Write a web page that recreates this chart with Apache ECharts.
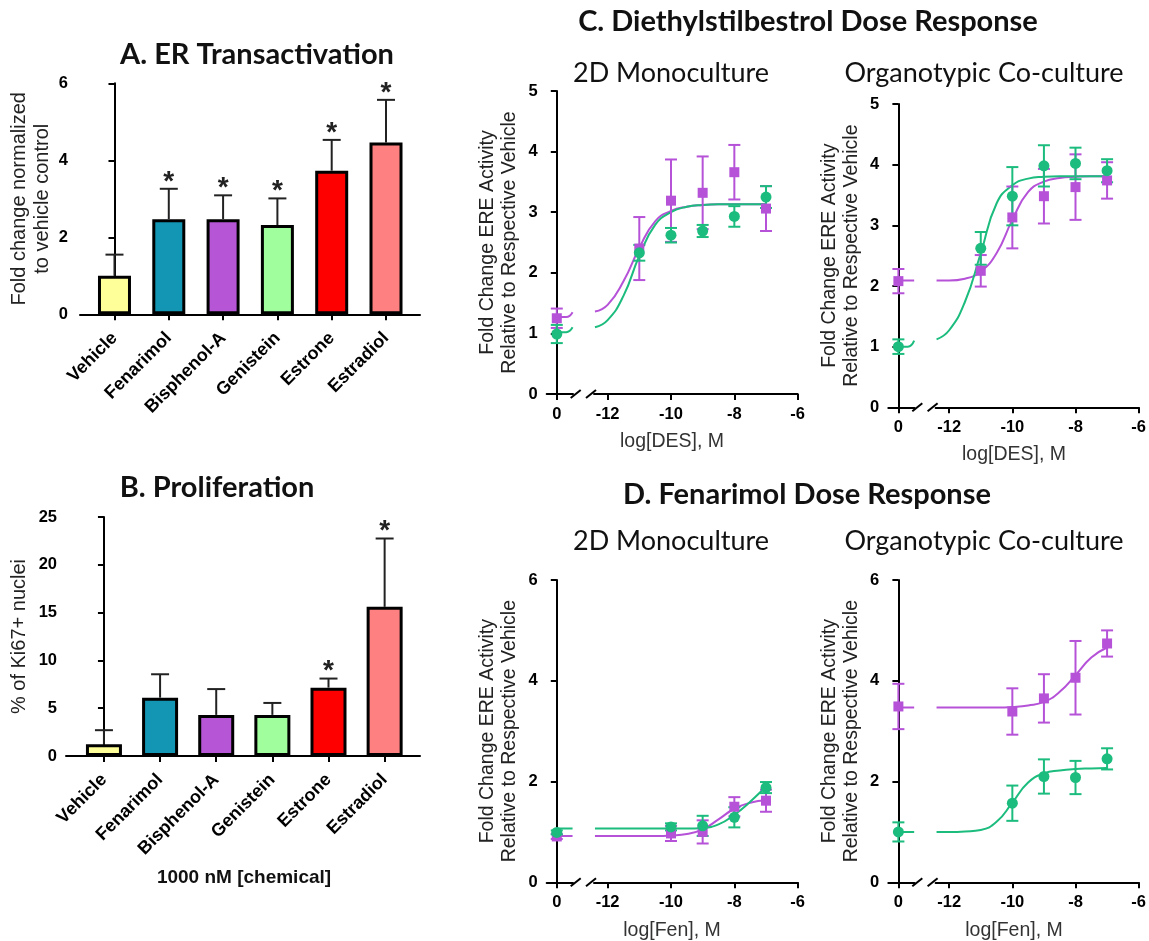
<!DOCTYPE html>
<html>
<head>
<meta charset="utf-8">
<title>ER transactivation, proliferation and dose response</title>
<script src="https://cdn.jsdelivr.net/npm/echarts@6/dist/echarts.min.js"></script>
<style>
  html, body { margin: 0; padding: 0; background: #fff; }
  #chart { width: 1149px; height: 941px; }
</style>
</head>
<body>
<div id="chart"></div>
<script>
// ---------- data ----------
const chemicals = ['Vehicle', 'Fenarimol', 'Bisphenol-A', 'Genistein', 'Estrone', 'Estradiol'];

// A. ER transactivation (fold change), upper SEM, significance
const erMean = [1.0, 2.47, 2.47, 2.32, 3.73, 4.46];
const erSem = [0.55, 0.79, 0.62, 0.69, 0.80, 1.11];
const erSig = [0, 1, 1, 1, 1, 1];

// B. Proliferation (% Ki67+ nuclei)
const ki67Mean = [1.22, 6.1, 4.3, 4.3, 7.15, 15.6];
const ki67Sem = [1.48, 2.45, 2.7, 1.25, 0.95, 7.15];
const ki67Sig = [0, 0, 0, 0, 1, 1];

// C / D. dose response: log dose of each point, fitted curve sample points
const desDose = [-11, -10, -9, -8, -7];
const fenDose = [-10, -9, -8, -7];
const curveX = [-12.4, -12, -11.5, -11, -10.5, -10, -9.5, -9, -8.5, -8, -7.5, -7];
const vehLineX = [0, 0.3, 0.5];

// C, 2D monoculture
const desMonoSqVeh = [1.25, 0.16];
const desMonoSqMean = [2.40, 3.19, 3.32, 3.66, 3.06];
const desMonoSqSem = [0.52, 0.68, 0.60, 0.45, 0.37];
const desMonoSqCurve = [1.36, 1.47, 1.86, 2.41, 2.85, 3.02, 3.09, 3.12, 3.13, 3.13, 3.13, 3.13];
const desMonoSqVehLine = [1.27, 1.27, 1.35];
const desMonoCiVeh = [0.99, 0.15];
const desMonoCiMean = [2.33, 2.62, 2.69, 2.93, 3.25];
const desMonoCiSem = [0.13, 0.12, 0.10, 0.17, 0.18];
const desMonoCiCurve = [1.10, 1.22, 1.62, 2.28, 2.79, 3.00, 3.09, 3.12, 3.13, 3.13, 3.13, 3.13];
const desMonoCiVehLine = [1.02, 1.02, 1.10];

// C, organotypic co-culture
const desOrgSqVeh = [2.08, 0.20];
const desOrgSqMean = [2.25, 3.13, 3.48, 3.63, 3.74];
const desOrgSqSem = [0.26, 0.51, 0.45, 0.54, 0.30];
const desOrgSqCurve = [2.09, 2.09, 2.12, 2.24, 2.54, 3.09, 3.55, 3.72, 3.78, 3.80, 3.81, 3.81];
const desOrgSqVehLine = [2.09, 2.09, 2.09];
const desOrgCiVeh = [1.0, 0.12];
const desOrgCiMean = [2.62, 3.48, 3.98, 4.02, 3.90];
const desOrgCiSem = [0.27, 0.48, 0.34, 0.26, 0.19];
const desOrgCiCurve = [1.12, 1.27, 1.74, 2.54, 3.36, 3.66, 3.77, 3.80, 3.81, 3.81, 3.81, 3.81];
const desOrgCiVehLine = [1.0, 1.0, 1.10];

// D, 2D monoculture
const fenMonoSqVeh = [0.91, 0.05];
const fenMonoSqMean = [0.97, 1.0, 1.5, 1.62];
const fenMonoSqSem = [0.15, 0.23, 0.19, 0.22];
const fenMonoSqCurve = [0.92, 0.92, 0.92, 0.92, 0.92, 0.93, 0.96, 1.05, 1.25, 1.46, 1.58, 1.63];
const fenMonoSqVehLine = [0.92, 0.92, 0.92];
const fenMonoCiVeh = [0.99, 0.04];
const fenMonoCiMean = [1.10, 1.12, 1.29, 1.88];
const fenMonoCiSem = [0.07, 0.20, 0.20, 0.11];
const fenMonoCiCurve = [1.07, 1.07, 1.07, 1.07, 1.07, 1.07, 1.07, 1.08, 1.15, 1.34, 1.60, 1.90];
const fenMonoCiVehLine = [1.07, 1.07, 1.07];

// D, organotypic co-culture
const fenOrgSqVeh = [3.49, 0.45];
const fenOrgSqMean = [3.39, 3.65, 4.06, 4.74];
const fenOrgSqSem = [0.46, 0.48, 0.73, 0.26];
const fenOrgSqCurve = [3.47, 3.47, 3.47, 3.47, 3.47, 3.48, 3.51, 3.58, 3.78, 4.11, 4.46, 4.66];
const fenOrgSqVehLine = [3.47, 3.47, 3.47];
const fenOrgCiVeh = [1.0, 0.19];
const fenOrgCiMean = [1.57, 2.10, 2.08, 2.45];
const fenOrgCiSem = [0.35, 0.34, 0.33, 0.21];
const fenOrgCiCurve = [1.0, 1.0, 1.01, 1.04, 1.20, 1.58, 1.98, 2.16, 2.22, 2.25, 2.26, 2.27];
const fenOrgCiVehLine = [1.0, 1.0, 1.0];

// ---------- styles ----------
const barColors = ['#FFFF99', '#1396B3', '#B656D6', '#A0FF9C', '#FF0000', '#FF8080'];
const PURPLE = '#B552D8';
const GREEN = '#1BBC7D';
const NUM_FONT = 'Liberation Sans';
const TITLE_FONT = 'Lato';

const chart = echarts.init(document.getElementById('chart'));

function errRender(capHalf, upOnly) {
  return function (params, api) {
    const x = api.value(0), m = api.value(1), e = api.value(2);
    const top = api.coord([x, m + e]);
    const bot = api.coord([x, upOnly ? m : m - e]);
    const style = { stroke: api.visual('color'), lineWidth: 2 };
    const kids = [
      { type: 'line', shape: { x1: top[0], y1: top[1], x2: bot[0], y2: bot[1] }, style: style },
      { type: 'line', shape: { x1: top[0] - capHalf, y1: top[1], x2: top[0] + capHalf, y2: top[1] }, style: style }
    ];
    if (!upOnly) {
      kids.push({ type: 'line', shape: { x1: bot[0] - capHalf, y1: bot[1], x2: bot[0] + capHalf, y2: bot[1] }, style: style });
    }
    if (api.value(3) === 1) {
      kids.push({
        type: 'text', x: top[0], y: top[1] - 7,
        style: { text: '*', fill: '#222', font: 'bold 28px "' + NUM_FONT + '"', align: 'center', verticalAlign: 'middle' }
      });
    }
    return { type: 'group', children: kids };
  };
}

const labelStyle = { color: '#000', fontFamily: NUM_FONT, fontWeight: 'bold', fontSize: 16.5 };
const lineBlack = { show: true, lineStyle: { color: '#000', width: 2 } };
const tickBlack = { show: true, length: 6, lineStyle: { color: '#000', width: 2 } };

const grids = [];
const xAxes = [];
const yAxes = [];
const series = [];

function addAxisPair(rect, xOpt, yOpt) {
  const idx = grids.length;
  grids.push(Object.assign({ containLabel: false }, rect));
  xAxes.push(Object.assign({ gridIndex: idx, type: 'value', splitLine: { show: false } }, xOpt));
  yAxes.push(Object.assign({ gridIndex: idx, type: 'value', splitLine: { show: false } }, yOpt));
  return idx;
}

// ---------- bar panels ----------
function barPanel(rect, xMin, xMax, yMax, yInt, yName, nameGap, yMargin, barW, mean, sem, sig) {
  const idx = addAxisPair(rect, {
    min: xMin, max: xMax,
    axisLine: lineBlack,
    axisTick: Object.assign({ customValues: [0, 1, 2, 3, 4, 5] }, tickBlack),
    axisLabel: {
      customValues: [0, 1, 2, 3, 4, 5], rotate: 45, margin: 21, fontSize: 18,
      color: '#000', fontFamily: NUM_FONT, fontWeight: 'bold',
      formatter: function (v) { return chemicals[Math.round(v)]; }
    }
  }, {
    min: 0, max: yMax, interval: yInt,
    axisLine: lineBlack, axisTick: tickBlack,
    axisLabel: Object.assign({ margin: yMargin }, labelStyle),
    name: yName, nameLocation: 'middle', nameRotate: 90, nameGap: nameGap,
    nameTextStyle: { fontFamily: NUM_FONT, fontSize: 20, color: '#222', lineHeight: 23 }
  });
  series.push({
    type: 'bar', xAxisIndex: idx, yAxisIndex: idx, barWidth: barW,
    data: mean.map(function (v, i) { return { value: [i, v], itemStyle: { color: barColors[i] } }; }),
    itemStyle: { borderColor: '#000', borderWidth: 3 }, z: 2
  });
  series.push({
    type: 'custom', xAxisIndex: idx, yAxisIndex: idx, renderItem: errRender(9, true),
    encode: { x: 0, y: 1 }, itemStyle: { color: '#222' }, z: 3,
    data: mean.map(function (v, i) { return [i, v, sem[i], sig[i]]; })
  });
}

barPanel({ left: 80, top: 83.3, width: 340, height: 231 }, -0.635, 5.626, 6, 2,
  'Fold change normalized\nto vehicle control', 26, 12, 33, erMean, erSem, erSig);
barPanel({ left: 66, top: 517, width: 354, height: 239 }, -0.676, 5.63, 25, 5,
  '% of Ki67+ nuclei', 35, 9, 36, ki67Mean, ki67Sem, ki67Sig);

// ---------- dose-response panels ----------
function doseSeries(va, da, doseX, veh, mean, sem, curve, vehLine, color, symbol) {
  const lineCommon = { type: 'line', smooth: true, showSymbol: false, silent: true, lineStyle: { color: color, width: 2 }, itemStyle: { color: color }, z: 3 };
  series.push(Object.assign({ xAxisIndex: va, yAxisIndex: va, data: vehLineX.map(function (x, i) { return [x, vehLine[i]]; }) }, lineCommon));
  series.push(Object.assign({ xAxisIndex: da, yAxisIndex: da, data: curveX.map(function (x, i) { return [x, curve[i]]; }) }, lineCommon));
  series.push({ type: 'custom', xAxisIndex: va, yAxisIndex: va, renderItem: errRender(6, false), encode: { x: 0, y: 1 }, itemStyle: { color: color }, z: 4, data: [[0, veh[0], veh[1], 0]] });
  series.push({ type: 'custom', xAxisIndex: da, yAxisIndex: da, renderItem: errRender(6, false), encode: { x: 0, y: 1 }, itemStyle: { color: color }, z: 4, data: doseX.map(function (x, i) { return [x, mean[i], sem[i], 0]; }) });
  const sc = { type: 'scatter', symbol: symbol, symbolSize: symbol === 'rect' ? 10 : 11, itemStyle: { color: color, opacity: 1 }, z: 5 };
  series.push(Object.assign({ xAxisIndex: va, yAxisIndex: va, data: [[0, veh[0]]] }, sc));
  series.push(Object.assign({ xAxisIndex: da, yAxisIndex: da, data: doseX.map(function (x, i) { return [x, mean[i]]; }) }, sc));
}

const breaks = [];
function dosePanel(x0, top, height, yMax, yInt) {
  const yOpt = { min: 0, max: yMax, interval: yInt };
  const va = addAxisPair({ left: x0, top: top, width: 26.3, height: height }, {
    min: -0.32, max: 0.514,
    axisLine: lineBlack,
    axisTick: Object.assign({ customValues: [0] }, tickBlack),
    axisLabel: Object.assign({ customValues: [0], margin: 12 }, labelStyle)
  }, Object.assign({
    axisLine: lineBlack, axisTick: tickBlack,
    axisLabel: Object.assign({ margin: 9 }, labelStyle),
    name: 'Fold Change ERE Activity\nRelative to Respective Vehicle',
    nameLocation: 'middle', nameRotate: 90, nameGap: 26,
    nameTextStyle: { fontFamily: NUM_FONT, fontSize: 19.5, color: '#222', lineHeight: 22 }
  }, yOpt));
  const da = addAxisPair({ left: x0 + 47.3, top: top, width: 203.7, height: height }, {
    min: -12.43, max: -6,
    axisLine: lineBlack,
    axisTick: Object.assign({ customValues: [-12, -10, -8, -6] }, tickBlack),
    axisLabel: Object.assign({ customValues: [-12, -10, -8, -6], margin: 12, showMaxLabel: true }, labelStyle)
  }, Object.assign({ show: false }, yOpt));
  breaks.push([x0 + 29, top + height], [x0 + 44.3, top + height]);
  return [va, da];
}

const cl = dosePanel(546.7, 91, 303, 5, 1);
const cr = dosePanel(888.3, 104, 303.3, 5, 1);
const dl = dosePanel(546.7, 580, 302.3, 6, 2);
const dr = dosePanel(888.3, 580, 302.3, 6, 2);

doseSeries(cl[0], cl[1], desDose, desMonoSqVeh, desMonoSqMean, desMonoSqSem, desMonoSqCurve, desMonoSqVehLine, PURPLE, 'rect');
doseSeries(cl[0], cl[1], desDose, desMonoCiVeh, desMonoCiMean, desMonoCiSem, desMonoCiCurve, desMonoCiVehLine, GREEN, 'circle');
doseSeries(cr[0], cr[1], desDose, desOrgSqVeh, desOrgSqMean, desOrgSqSem, desOrgSqCurve, desOrgSqVehLine, PURPLE, 'rect');
doseSeries(cr[0], cr[1], desDose, desOrgCiVeh, desOrgCiMean, desOrgCiSem, desOrgCiCurve, desOrgCiVehLine, GREEN, 'circle');
doseSeries(dl[0], dl[1], fenDose, fenMonoSqVeh, fenMonoSqMean, fenMonoSqSem, fenMonoSqCurve, fenMonoSqVehLine, PURPLE, 'rect');
doseSeries(dl[0], dl[1], fenDose, fenMonoCiVeh, fenMonoCiMean, fenMonoCiSem, fenMonoCiCurve, fenMonoCiVehLine, GREEN, 'circle');
doseSeries(dr[0], dr[1], fenDose, fenOrgSqVeh, fenOrgSqMean, fenOrgSqSem, fenOrgSqCurve, fenOrgSqVehLine, PURPLE, 'rect');
doseSeries(dr[0], dr[1], fenDose, fenOrgCiVeh, fenOrgCiMean, fenOrgCiSem, fenOrgCiCurve, fenOrgCiVehLine, GREEN, 'circle');

// ---------- free text and axis-break marks ----------
function txt(text, x, y, size, weight, family, color) {
  return {
    type: 'text', x: x, y: y, silent: true,
    style: { text: text, font: weight + ' ' + size + 'px "' + family + '"', fill: color || '#000', align: 'center', verticalAlign: 'middle' }
  };
}
const graphics = [
  txt('A. ER Transactivation', 257, 55, 29, 'bold', TITLE_FONT, '#111'),
  txt('B. Proliferation', 217, 488, 29, 'bold', TITLE_FONT, '#111'),
  txt('1000 nM [chemical]', 244, 878, 19, 'bold', NUM_FONT, '#111'),
  txt('C. Diethylstilbestrol Dose Response', 808, 22, 29, 'bold', TITLE_FONT, '#111'),
  txt('2D Monoculture', 671, 73, 27, 'normal', TITLE_FONT, '#111'),
  txt('Organotypic Co-culture', 984, 73, 27, 'normal', TITLE_FONT, '#111'),
  txt('D. Fenarimol Dose Response', 807, 495, 29, 'bold', TITLE_FONT, '#111'),
  txt('2D Monoculture', 671, 541, 27, 'normal', TITLE_FONT, '#111'),
  txt('Organotypic Co-culture', 984, 541, 27, 'normal', TITLE_FONT, '#111'),
  txt('log[DES], M', 672, 442, 19.5, 'normal', NUM_FONT, '#333'),
  txt('log[DES], M', 1014, 455, 19.5, 'normal', NUM_FONT, '#333'),
  txt('log[Fen], M', 672, 931, 19.5, 'normal', NUM_FONT, '#333'),
  txt('log[Fen], M', 1014, 931, 19.5, 'normal', NUM_FONT, '#333')
];
breaks.forEach(function (p) {
  graphics.push({
    type: 'line', silent: true,
    shape: { x1: p[0] - 5, y1: p[1] + 4, x2: p[0] + 5, y2: p[1] - 4 },
    style: { stroke: '#000', lineWidth: 2 }
  });
});

chart.setOption({
  animation: false,
  backgroundColor: '#fff',
  grid: grids,
  xAxis: xAxes,
  yAxis: yAxes,
  series: series,
  graphic: graphics
});
</script>
</body>
</html>
